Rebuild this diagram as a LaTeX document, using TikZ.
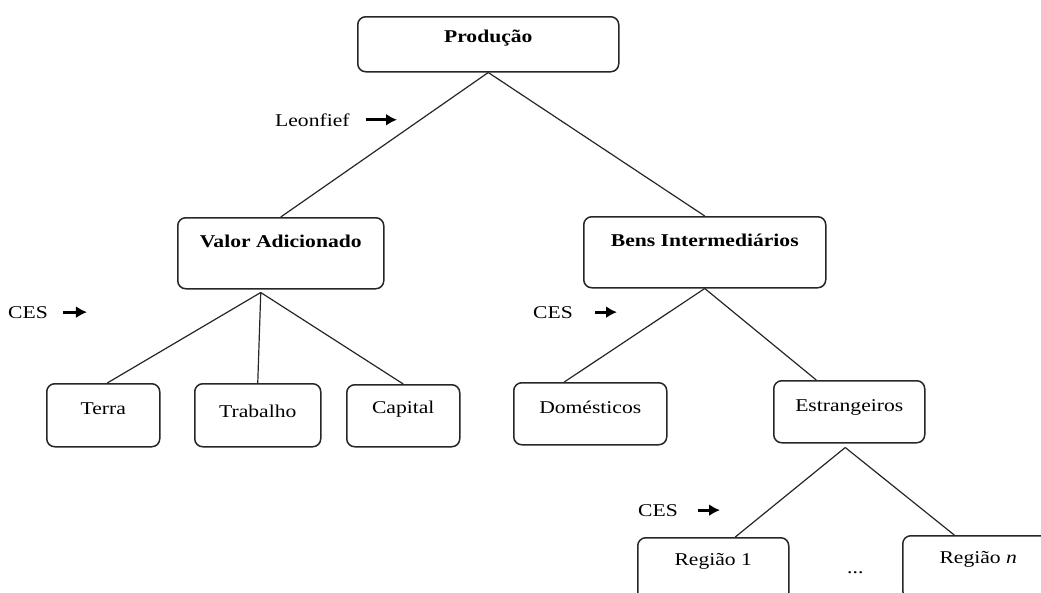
\documentclass[tikz,border=0pt]{standalone}
\usepackage{fontspec}
\setmainfont[FakeStretch=1.2]{Liberation Serif}
\usepackage{xcolor}
\usetikzlibrary{positioning, calc, arrows.meta, decorations.markings}
\tikzstyle{Box} = [
draw=black!85,
rounded corners=8pt,
line width=1.5pt,
inner sep=0pt,
anchor=north west]
\tikzstyle{Label} = [
inner sep=0pt,
anchor=base west]
\tikzstyle{Line} = [
line width=1.2pt,
black!85]
\tikzstyle{Arrow} = [
line width=2.8pt,
decoration={
markings,
mark=at position 0.9999 with {
\arrow{Latex[length=11pt, width=12pt]}}},
shorten >= 5pt, preaction = {decorate}]

\begin{document}
\begin{tikzpicture}[x=1pt, y=-1pt, font=\fontsize{18}{21}\selectfont]
    \useasboundingbox (0,0) rectangle (1041,592);
    \clip (0,0) rectangle (1041,592);

    \node [Box, minimum width=261pt, text height=26pt, text depth=29pt] (1) at (357,16) {\textbf{Produção}};
    \node [Box, minimum width=206pt, text height=30pt, text depth=41pt] (2) at (177,217) {\textbf{Valor Adicionado}};
    \node [Box, minimum width=242pt, text height=30pt, text depth=41pt] (3) at (583,216) {\textbf{Bens Intermediários}};
    \node [Box, minimum width=113pt, text height=31pt, text depth=32pt] (4) at (46,383) {Terra};
    \node [Box, minimum width=126pt, text height=34pt, text depth=29pt] (5) at (194,383) {Trabalho};
    \node [Box, minimum width=113pt, text height=29pt, text depth=33pt] (6) at (346,384) {Capital};
    \node [Box, minimum width=153pt, text height=31pt, text depth=31pt] (7) at (513,382) {Domésticos};
    \node [Box, minimum width=151pt, text height=31pt, text depth=31pt] (8) at (773,380) {Estrangeiros};
    \node [Box, minimum width=151pt, text height=28pt, text depth=35pt] (9) at (637,537) {Região 1};
    \node [Box, minimum width=151pt, text height=28pt, text depth=35pt] (10) at (902,535) {Região \textit{n}};
    \node [Label] (11) at (847,573) {...};

    \node [Label] (12) at (275,126) {Leonfief};
    \node [Label] (13) at (8,318) {CES};
    \node [Label] (14) at (533,318) {CES};
    \node [Label] (15) at (638,516) {CES};
    \coordinate (a1) at (397,120);
    \coordinate (a2) at (87,312);
    \coordinate (a3) at (617,312);
    \coordinate (a4) at (720,509);

    \draw[Line] (1.south) -- (2.north);
    \draw[Line] (1.south) -- (3.north);
    \draw[Line] ([xshift=-20pt, yshift=-3pt]2.south) -- ([xshift=4pt]4.north);
    \draw[Line] ([xshift=-20pt, yshift=-3pt]2.south) -- (5.north);
    \draw[Line] ([xshift=-20pt, yshift=-3pt]2.south) -- (6.north);
    \draw[Line] (3.south) -- ([xshift=-26pt]7.north);
    \draw[Line] (3.south) -- ([xshift=-33pt]8.north);
    \draw[Line] ([xshift=-4pt, yshift=-4pt]8.south) -- ([xshift=22pt]9.north);
    \draw[Line] ([xshift=-4pt, yshift=-4pt]8.south) -- ([xshift=-24pt]10.north);

    \draw[Arrow] ([xshift=16pt]12.east) -- (12.east -| a1);
    \draw[Arrow] ([xshift=15pt]13.east) -- (13.east -| a2);
    \draw[Arrow] ([xshift=22pt]14.east) -- (14.east -| a3);
    \draw[Arrow] ([xshift=20pt]15.east) -- (15.east -| a4);
\end{tikzpicture}
\end{document}
